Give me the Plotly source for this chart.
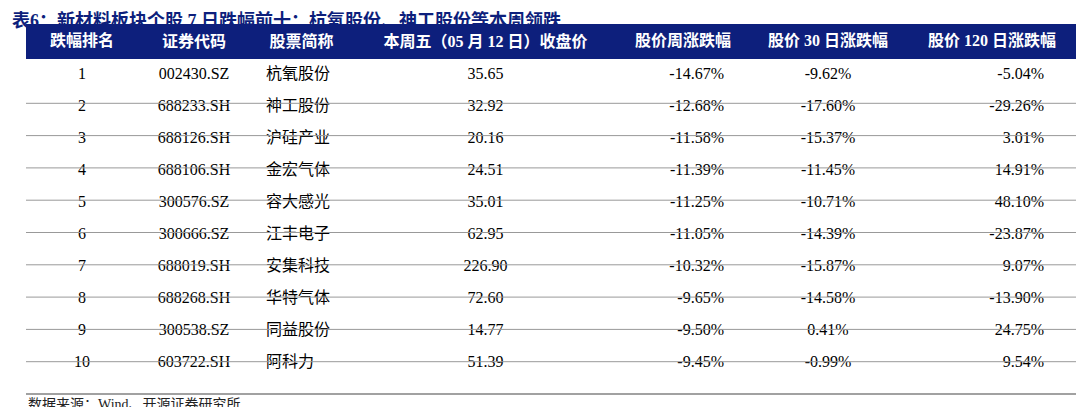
import plotly.graph_objects as go

rank = [1, 2, 3, 4, 5, 6, 7, 8, 9, 10]
codes = ["002430.SZ", "688233.SH", "688126.SH", "688106.SH", "300576.SZ",
         "300666.SZ", "688019.SH", "688268.SH", "300538.SZ", "603722.SH"]
names = ["杭氧股份", "神工股份", "沪硅产业", "金宏气体", "容大感光",
         "江丰电子", "安集科技", "华特气体", "同益股份", "阿科力"]
close = ["35.65", "32.92", "20.16", "24.51", "35.01", "62.95", "226.90", "72.60", "14.77", "51.39"]
wk = ["-14.67%", "-12.68%", "-11.58%", "-11.39%", "-11.25%", "-11.05%", "-10.32%", "-9.65%", "-9.50%", "-9.45%"]
d30 = ["-9.62%", "-17.60%", "-15.37%", "-11.45%", "-10.71%", "-14.39%", "-15.87%", "-14.58%", "0.41%", "-0.99%"]
d120 = ["-5.04%", "-29.26%", "3.01%", "14.91%", "48.10%", "-23.87%", "9.07%", "-13.90%", "24.75%", "9.54%"]
headers = ["跌幅排名", "证券代码", "股票简称", "本周五（05 月 12 日）收盘价", "股价周涨跌幅", "股价 30 日涨跌幅", "股价 120 日涨跌幅"]

W, H = 1086, 407
NAVY = "#0d1f7c"
FONT = "Liberation Serif, Noto Sans CJK SC"
top, hh, rh = 28, 35, 32.3
x0, x1 = 18, 1068
pad2 = "\u2007\u2007"
pad3 = "\u2007\u2007\u2007"

fig = go.Figure(go.Table(
    domain=dict(x=[x0 / W, x1 / W], y=[0, 1 - (top - 12) / H]),
    columnwidth=[112, 112, 103, 265, 130, 160, 168],
    header=dict(values=["<b>%s</b>" % h for h in headers], fill_color=NAVY,
                font=dict(color="white", size=16, family=FONT), align="center",
                height=hh, line=dict(width=0)),
    cells=dict(values=[rank, codes, ["\u2007" + n for n in names], close,
                       [v + pad2 for v in wk], d30, [v + pad3 for v in d120]],
               fill_color="white", font=dict(color="black", size=16, family=FONT),
               align=["center", "center", "left", "center", "right", "center", "right"],
               height=32, line=dict(width=0)),
))
shapes = []
for i in range(1, 11):
    y = top + hh + rh * i
    shapes.append(dict(type="line", xref="paper", yref="paper", x0=x0 / W, x1=x1 / W,
                       y0=1 - y / H, y1=1 - y / H,
                       line=dict(color="#444" if i == 10 else "#999", width=1.2 if i == 10 else 1)))
fig.update_layout(
    width=W, height=H, margin=dict(l=0, r=0, t=0, b=0), paper_bgcolor="white",
    shapes=shapes,
    annotations=[
        dict(text="<b>表6：新材料板块个股 7 日跌幅前十：杭氧股份、神工股份等本周领跌</b>", x=0.002, y=1 - 13 / H,
             xref="paper", yref="paper", xanchor="left", yanchor="middle", showarrow=False,
             font=dict(color=NAVY, size=18, family=FONT)),
        dict(text="数据来源：Wind、开源证券研究所", x=18 / W, y=1 - 396 / H,
             xref="paper", yref="paper", xanchor="left", yanchor="middle", showarrow=False,
             font=dict(color="#222", size=14, family=FONT)),
    ],
)
fig.write_html("out.html")
